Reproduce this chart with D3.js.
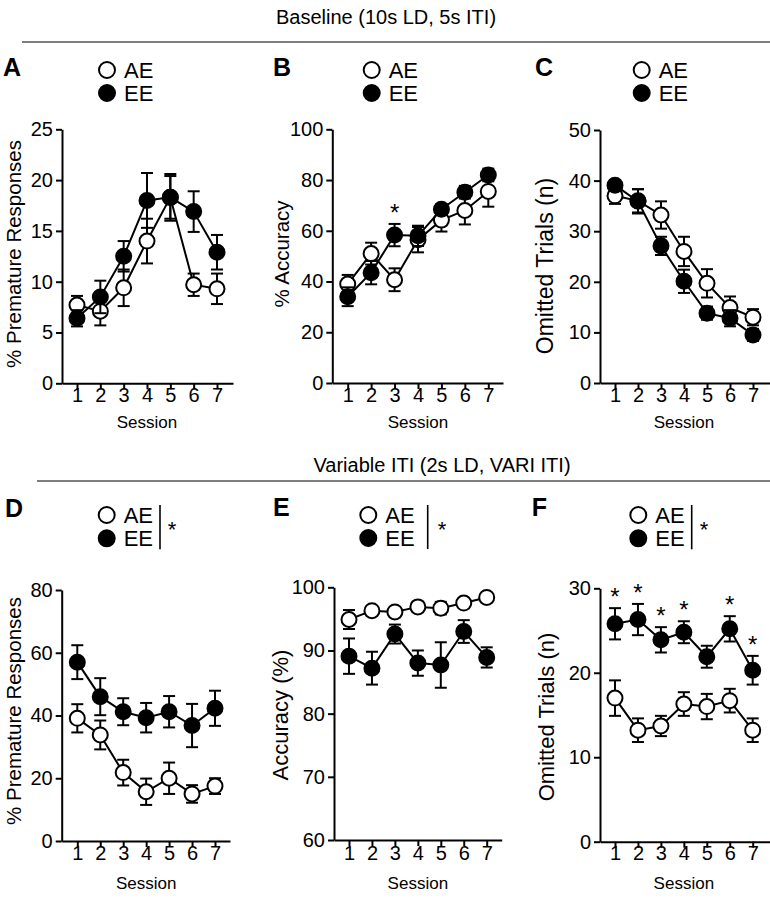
<!DOCTYPE html>
<html><head><meta charset="utf-8">
<script src="https://cdn.jsdelivr.net/npm/d3@7"></script>
<style>
html,body{margin:0;padding:0;background:#fff;}
svg{display:block;}
text{font-family:"Liberation Sans",Arial,Helvetica,sans-serif;fill:#000;}
</style></head>
<body>
<svg id="chart" width="770" height="900"></svg>
<script>
// ---------------- DATA ----------------
const sessions = [1, 2, 3, 4, 5, 6, 7];
const groups = ["AE", "EE"];

const A_AE = [7.7, 7.1, 9.4, 14.0, 18.3, 9.7, 9.3];
const A_AE_err = [0.9, 1.4, 1.8, 2.2, 2.1, 1.1, 1.5];
const A_EE = [6.4, 8.5, 12.5, 18.0, 18.3, 16.9, 12.9];
const A_EE_err = [0.8, 1.6, 1.5, 2.7, 2.3, 2.0, 1.7];

const B_AE = [39.0, 51.0, 40.7, 56.5, 64.2, 68.0, 75.5];
const B_AE_err = [3.6, 4.3, 4.5, 5.0, 4.5, 5.5, 6.0];
const B_EE = [34.0, 43.5, 58.3, 58.0, 68.5, 75.2, 82.0];
const B_EE_err = [3.7, 4.6, 4.4, 4.0, 2.0, 2.5, 2.5];
const B_stars = [3];

const C_AE = [37.0, 36.0, 33.2, 26.0, 19.7, 14.9, 13.0];
const C_AE_err = [1.6, 2.3, 2.7, 2.9, 2.8, 2.2, 1.6];
const C_EE = [39.1, 35.9, 27.1, 20.1, 13.8, 12.8, 9.5];
const C_EE_err = [1.0, 2.4, 1.8, 2.3, 1.3, 1.6, 1.2];

const D_AE = [39.1, 33.8, 21.8, 15.7, 20.0, 15.0, 17.5];
const D_AE_err = [4.5, 4.6, 4.1, 4.2, 5.0, 2.8, 2.5];
const D_EE = [57.0, 46.0, 41.2, 39.3, 41.2, 36.8, 42.3];
const D_EE_err = [5.4, 5.9, 4.3, 4.7, 5.0, 6.9, 5.6];

const E_AE = [94.9, 96.3, 96.1, 96.9, 96.7, 97.5, 98.4];
const E_AE_err = [1.5, 0.3, 0.5, 0.8, 1.0, 0.6, 0.3];
const E_EE = [89.1, 87.2, 92.6, 88.0, 87.7, 93.0, 88.9];
const E_EE_err = [2.8, 2.6, 1.5, 2.0, 3.6, 1.8, 1.6];

const F_AE = [17.0, 13.2, 13.7, 16.3, 16.0, 16.7, 13.2];
const F_AE_err = [2.1, 1.4, 1.2, 1.4, 1.5, 1.4, 1.4];
const F_EE = [25.8, 26.3, 23.9, 24.8, 21.9, 25.2, 20.3];
const F_EE_err = [1.85, 1.85, 1.5, 1.3, 1.3, 1.5, 1.7];
const F_stars = [1, 2, 3, 4, 6, 7];

const A_ticks = [0, 5, 10, 15, 20, 25];
const B_ticks = [0, 20, 40, 60, 80, 100];
const C_ticks = [0, 10, 20, 30, 40, 50];
const D_ticks = [0, 20, 40, 60, 80];
const E_ticks = [60, 70, 80, 90, 100];
const F_ticks = [0, 10, 20, 30];

const sectionTitles = ["Baseline (10s LD, 5s ITI)", "Variable ITI (2s LD, VARI ITI)"];
const xTitle = "Session";

// ---------------- LAYOUT ----------------
const svg = d3.select("#chart");

function txt(g, x, y, s, o = {}) {
  const t = g.append("text")
    .attr("transform", `translate(${x},${y})` + (o.rotate ? " rotate(-90)" : ""))
    .attr("text-anchor", o.anchor || "start")
    .style("font-size", (o.size || 18) + "px")
    .style("font-weight", o.weight || "normal")
    .text(s);
  if (o.baseline) t.attr("dominant-baseline", o.baseline);
  return t;
}

// section titles & rules
txt(svg, 386, 24, sectionTitles[0], {size: 20, anchor: "middle"});
svg.append("line").attr("x1", 22).attr("x2", 770).attr("y1", 42).attr("y2", 42)
  .attr("stroke", "#555").attr("stroke-width", 1.6);
txt(svg, 442, 472, sectionTitles[1], {size: 20, anchor: "middle"});
svg.append("line").attr("x1", 37).attr("x2", 770).attr("y1", 481).attr("y2", 481)
  .attr("stroke", "#555").attr("stroke-width", 1.6);

const panels = [
  {L: "A", ae: A_AE, aeE: A_AE_err, ee: A_EE, eeE: A_EE_err, ticks: A_ticks, ylab: "% Premature Responses",
   ax: 62, x1: 77, x7: 217, xend: 233, ytop: 129.3, ybot: 383.3, ylabX: 13, ylabY: 254,
   letter: [3, 76], leg: [107, 70, 93], sig: false, stars: [],
   tickY: 402, sesY: 428, ylabSize: 20.5},
  {L: "B", ae: B_AE, aeE: B_AE_err, ee: B_EE, eeE: B_EE_err, ticks: B_ticks, ylab: "% Accuracy",
   ax: 332.3, x1: 347.7, x7: 488.3, xend: 503, ytop: 129.3, ybot: 383, ylabX: 281, ylabY: 254,
   letter: [273, 76], leg: [371.7, 70, 93], sig: false, stars: B_stars,
   tickY: 402, sesY: 428, ylabSize: 20.5},
  {L: "C", ae: C_AE, aeE: C_AE_err, ee: C_EE, eeE: C_EE_err, ticks: C_ticks, ylab: "Omitted Trials (n)",
   ax: 600, x1: 615, x7: 753, xend: 770, ytop: 130, ybot: 383, ylabX: 545, ylabY: 266,
   letter: [535, 76], leg: [641.7, 70, 93], sig: false, stars: [],
   tickY: 402, sesY: 428, ylabSize: 23},
  {L: "D", ae: D_AE, aeE: D_AE_err, ee: D_EE, eeE: D_EE_err, ticks: D_ticks, ylab: "% Premature Responses",
   ax: 61.7, x1: 77.3, x7: 215, xend: 230, ytop: 590, ybot: 841, ylabX: 13, ylabY: 711,
   letter: [5, 517], leg: [106.7, 515, 538.3], sig: true, legBarX: 160, legStarX: 172, stars: [],
   tickY: 860, sesY: 889, ylabSize: 20.5},
  {L: "E", ae: E_AE, aeE: E_AE_err, ee: E_EE, eeE: E_EE_err, ticks: E_ticks, ylab: "Accuracy (%)",
   ax: 334, x1: 349, x7: 486.7, xend: 501.7, ytop: 587.3, ybot: 840, ylabX: 280, ylabY: 715,
   letter: [273, 516], leg: [368.3, 515, 538], sig: true, legBarX: 427.7, legStarX: 442, stars: [],
   tickY: 860, sesY: 889, ylabSize: 22},
  {L: "F", ae: F_AE, aeE: F_AE_err, ee: F_EE, eeE: F_EE_err, ticks: F_ticks, ylab: "Omitted Trials (n)",
   ax: 600, x1: 615, x7: 752.7, xend: 770, ytop: 588.3, ybot: 841.7, ylabX: 546, ylabY: 717,
   letter: [531.7, 516], leg: [638.3, 515, 538.3], sig: true, legBarX: 691.7, legStarX: 704, stars: F_stars,
   tickY: 860, sesY: 889, ylabSize: 22}
];

const R = 7.5, CAP = 6, LW = 2;

panels.forEach(p => {
  const g = svg.append("g");
  const x = d3.scaleLinear().domain([1, 7]).range([p.x1, p.x7]);
  const xAxisScale = d3.scaleLinear().domain([x.invert(p.ax), x.invert(p.xend)]).range([p.ax, p.xend]);
  const y = d3.scaleLinear().domain([d3.min(p.ticks), d3.max(p.ticks)]).range([p.ybot, p.ytop]);

  // axes
  const yAx = g.append("g").attr("transform", `translate(${p.ax},0)`)
    .call(d3.axisLeft(y).tickValues(p.ticks).tickSize(6).tickPadding(3).tickSizeOuter(0).tickFormat(d3.format("d")));
  const xAx = g.append("g").attr("transform", `translate(0,${p.ybot})`)
    .call(d3.axisBottom(xAxisScale).tickValues(sessions).tickSize(6).tickSizeOuter(0).tickFormat(d3.format("d")));
  [yAx, xAx].forEach(a => {
    a.select(".domain").attr("stroke", "#000").attr("stroke-width", LW);
    a.selectAll(".tick line").attr("stroke", "#000").attr("stroke-width", LW);
    a.selectAll(".tick text").style("font-size", "20px").attr("fill", "#000")
      .style("font-family", '"Liberation Sans",Arial,sans-serif');
  });
  xAx.selectAll(".tick text").attr("y", null).attr("dy", null)
    .attr("transform", `translate(0,${p.tickY - p.ybot})`);

  txt(g, x(4), p.sesY, xTitle, {size: 17, anchor: "middle"});
  txt(g, p.ylabX, p.ylabY, p.ylab, {size: p.ylabSize, anchor: "middle", rotate: true, baseline: "central"});

  // panel letter
  txt(g, p.letter[0], p.letter[1], p.L, {size: 25, weight: "bold"});

  // legend
  const lx = p.leg[0];
  [[p.leg[1], "#fff", "AE"], [p.leg[2], "#000", "EE"]].forEach(([ly, fill, lab]) => {
    g.append("circle").attr("cx", lx).attr("cy", ly).attr("r", 8)
      .attr("fill", fill).attr("stroke", "#000").attr("stroke-width", LW);
    txt(g, lx + 17, ly, lab, {size: 22, baseline: "central"});
  });
  if (p.sig) {
    g.append("line").attr("x1", p.legBarX).attr("x2", p.legBarX)
      .attr("y1", p.leg[1] - 10).attr("y2", p.leg[2] + 11)
      .attr("stroke", "#000").attr("stroke-width", 1.6);
    txt(g, p.legStarX, (p.leg[1] + p.leg[2]) / 2 + 10, "*", {size: 22, anchor: "middle"});
  }

  // series
  const series = [
    {vals: p.ae, errs: p.aeE, fill: "#fff"},
    {vals: p.ee, errs: p.eeE, fill: "#000"}
  ];
  const line = d3.line().x((d, i) => x(sessions[i])).y(d => y(d));
  series.forEach(s => {
    const eg = g.append("g").attr("stroke", "#000").attr("stroke-width", LW);
    s.vals.forEach((v, i) => {
      const cx = x(sessions[i]), yh = y(v + s.errs[i]), yl = y(v - s.errs[i]);
      eg.append("line").attr("x1", cx).attr("x2", cx).attr("y1", yh).attr("y2", yl);
      eg.append("line").attr("x1", cx - CAP).attr("x2", cx + CAP).attr("y1", yh).attr("y2", yh);
      eg.append("line").attr("x1", cx - CAP).attr("x2", cx + CAP).attr("y1", yl).attr("y2", yl);
    });
    g.append("path").datum(s.vals).attr("d", line)
      .attr("fill", "none").attr("stroke", "#000").attr("stroke-width", LW);
    g.selectAll(null).data(s.vals).enter().append("circle")
      .attr("cx", (d, i) => x(sessions[i])).attr("cy", d => y(d)).attr("r", R)
      .attr("fill", s.fill).attr("stroke", "#000").attr("stroke-width", LW);
  });

  // significance stars over EE points
  p.stars.forEach(sn => {
    const i = sessions.indexOf(sn);
    const top = y(p.ee[i] + p.eeE[i]);
    txt(g, x(sn), top - 3, "*", {size: 24, anchor: "middle"});
  });
});
</script>
</body></html>
